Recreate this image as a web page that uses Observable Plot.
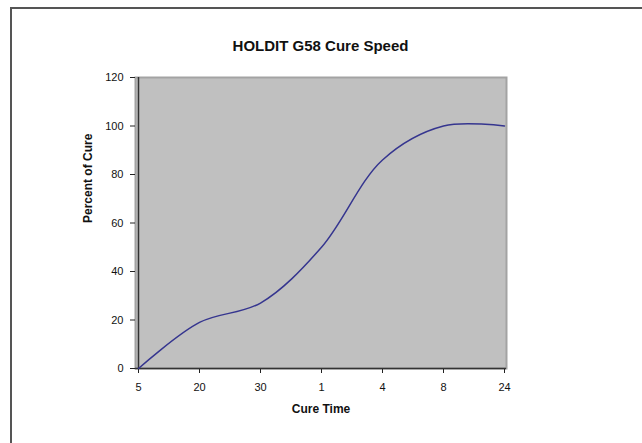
<!DOCTYPE html>
<html>
<head>
<meta charset="utf-8">
<script src="https://cdn.jsdelivr.net/npm/d3@7"></script>
<script src="https://cdn.jsdelivr.net/npm/@observablehq/plot@0.6"></script>
<style>
  body { margin: 0; background: #fff; font-family: "Liberation Sans", Arial, sans-serif; }
  #wrap { position: relative; width: 642px; height: 443px; overflow: hidden; }
  #border { position: absolute; left: 10px; top: 7px; width: 700px; height: 500px;
            border-left: 2px solid #555; border-top: 2px solid #555; }
  #title { position: absolute; left: 0; top: 37px; width: 641px; text-align: center;
           font-size: 15px; font-weight: bold; color: #111; line-height: 18px; }
  #chart { position: absolute; left: 0; top: 60px; }
</style>
</head>
<body>
<div id="wrap">
  <div id="border"></div>
  <div id="title">HOLDIT G58 Cure Speed</div>
  <div id="chart"></div>
</div>
<script>
const cureTimes = ["5", "20", "30", "1", "4", "8", "24"];
const percentCure = [0, 19, 27, 50, 86, 100, 100];
const yTicks = [0, 20, 40, 60, 80, 100, 120];
const xTitle = "Cure Time";
const yTitle = "Percent of Cure";

const data = cureTimes.map((t, i) => ({time: t, pct: percentCure[i]}));

const chart = Plot.plot({
  width: 642,
  height: 383,
  marginTop: 17,
  marginBottom: 75,
  marginLeft: 135,
  marginRight: 136,
  style: {fontFamily: "'Liberation Sans', Arial, sans-serif", fontSize: "11px", color: "#111", background: "transparent", overflow: "visible"},
  x: {type: "point", domain: cureTimes, padding: 0, label: null},
  y: {domain: [0, 120], label: null},
  marks: [
    Plot.frame({fill: "#c0c0c0", stroke: "#a3a3a3", strokeWidth: 2}),
    Plot.axisY({ticks: yTicks, tickSize: 5, tickPadding: 7, label: null, stroke: "#222"}),
    Plot.axisX({tickSize: 5, tickPadding: 10, label: null, stroke: "#222"}),
    Plot.ruleY([0], {stroke: "#333", strokeWidth: 1.5}),
    Plot.ruleX([cureTimes[0]], {stroke: "#333", strokeWidth: 1.5}),
    Plot.line(data, {x: "time", y: "pct", curve: "catmull-rom", stroke: "#35358f", strokeWidth: 1.5}),
    Plot.text([xTitle], {text: d => d, frameAnchor: "bottom", dy: 44, fontWeight: "bold", fontSize: 12, fill: "#111"}),
    Plot.text([yTitle], {text: d => d, frameAnchor: "left", dx: -47, rotate: -90, fontWeight: "bold", fontSize: 12, fill: "#111"})
  ]
});
document.getElementById("chart").appendChild(chart);
</script>
</body>
</html>
